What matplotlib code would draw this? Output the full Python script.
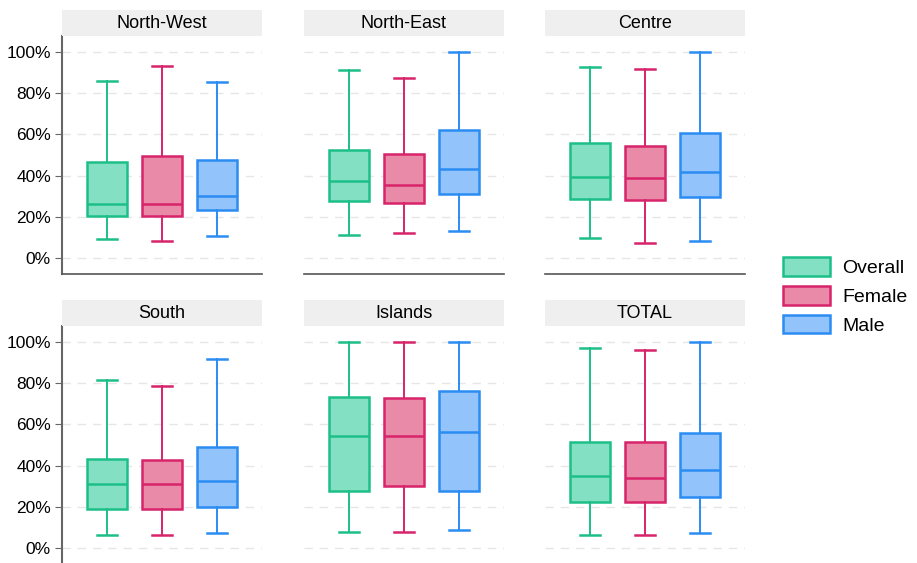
import matplotlib
matplotlib.use('Agg')
import matplotlib.pyplot as plt
from matplotlib.patches import Patch, Rectangle
from matplotlib.ticker import PercentFormatter

plt.rcParams['font.family'] = ['Liberation Sans', 'DejaVu Sans']

regions = ['North-West', 'North-East', 'Centre', 'South', 'Islands', 'TOTAL']
groups = ['Overall', 'Female', 'Male']

# per region: [whislo, q1, median, q3, whishi] for Overall, Female, Male
nw = [[0.09, 0.204, 0.26, 0.467, 0.86],
      [0.08, 0.205, 0.26, 0.497, 0.934],
      [0.106, 0.23, 0.30, 0.475, 0.856]]
ne = [[0.108, 0.274, 0.375, 0.523, 0.913],
      [0.121, 0.264, 0.354, 0.504, 0.874],
      [0.132, 0.308, 0.432, 0.623, 1.0]]
centre = [[0.095, 0.284, 0.393, 0.558, 0.928],
          [0.073, 0.282, 0.388, 0.543, 0.920],
          [0.083, 0.297, 0.419, 0.605, 1.0]]
south = [[0.059, 0.186, 0.308, 0.432, 0.819],
         [0.059, 0.186, 0.308, 0.427, 0.786],
         [0.073, 0.20, 0.323, 0.491, 0.917]]
islands = [[0.078, 0.277, 0.546, 0.736, 1.0],
           [0.078, 0.299, 0.542, 0.731, 1.0],
           [0.086, 0.277, 0.561, 0.763, 1.0]]
total = [[0.059, 0.223, 0.347, 0.517, 0.971],
         [0.059, 0.223, 0.338, 0.515, 0.962],
         [0.073, 0.248, 0.380, 0.558, 1.0]]
data = [nw, ne, centre, south, islands, total]

edge_colors = ['#1dbf88', '#d8246a', '#2b8cf2']
face_colors = ['#84e0c2', '#e98aa8', '#92c3fb']

fig = plt.figure(figsize=(9.17, 5.63), dpi=100)
W, H = 917, 563
lefts = [62, 304, 545]
tops = [36, 326]
aw, ah = 200, 238

for i, region in enumerate(regions):
    r, c = divmod(i, 3)
    ax = fig.add_axes([lefts[c] / W, 1 - (tops[r] + ah) / H, aw / W, ah / H])
    for j, g in enumerate(groups):
        lo, q1, med, q3, hi = data[i][j]
        st = dict(whislo=lo, q1=q1, med=med, q3=q3, whishi=hi, fliers=[], label=g)
        ax.bxp([st], positions=[j + 1], widths=0.73, patch_artist=True,
               showfliers=False,
               boxprops=dict(facecolor=face_colors[j], edgecolor=edge_colors[j], linewidth=1.8),
               medianprops=dict(color=edge_colors[j], linewidth=1.8),
               whiskerprops=dict(color=edge_colors[j], linewidth=1.4),
               capprops=dict(color=edge_colors[j], linewidth=1.8),
               capwidths=0.36, zorder=3)
    ax.set_xlim(0.18, 3.82)
    ax.set_ylim(-0.08, 1.08)
    ax.set_yticks([0, 0.2, 0.4, 0.6, 0.8, 1.0])
    ax.yaxis.set_major_formatter(PercentFormatter(1.0, decimals=0))
    ax.set_xticks([])
    ax.grid(axis='y', color='#e6e6e6', linestyle=(0, (6, 5)), linewidth=1.0, zorder=0)
    ax.set_axisbelow(True)
    for s in ['top', 'right']:
        ax.spines[s].set_visible(False)
    ax.spines['bottom'].set_visible(r == 0)
    ax.spines['bottom'].set_color('#555555')
    ax.spines['bottom'].set_linewidth(1.2)
    if c == 0:
        ax.spines['left'].set_color('#666666')
        ax.spines['left'].set_linewidth(1.5)
        ax.tick_params(axis='y', labelsize=12.5, length=5, color='#666666', pad=3)
    else:
        ax.spines['left'].set_visible(False)
        ax.tick_params(axis='y', left=False, labelleft=False)
    # facet strip
    fig.patches.append(Rectangle((lefts[c] / W, 1 - tops[r] / H), aw / W, 26 / H,
                                 transform=fig.transFigure, facecolor='#efefef',
                                 edgecolor='none'))
    fig.text((lefts[c] + aw / 2) / W, 1 - (tops[r] - 13) / H, region,
             ha='center', va='center', fontsize=13)

handles = [Patch(facecolor=face_colors[j], edgecolor=edge_colors[j], linewidth=1.8, label=g)
           for j, g in enumerate(groups)]
fig.legend(handles=handles, loc='center left', bbox_to_anchor=(783 / W, 1 - 296 / H),
           frameon=False, fontsize=14, handlelength=2.4, handleheight=1.1,
           labelspacing=0.45, handletextpad=0.65, borderpad=0, borderaxespad=0)

fig.savefig('out.png', dpi=100)
